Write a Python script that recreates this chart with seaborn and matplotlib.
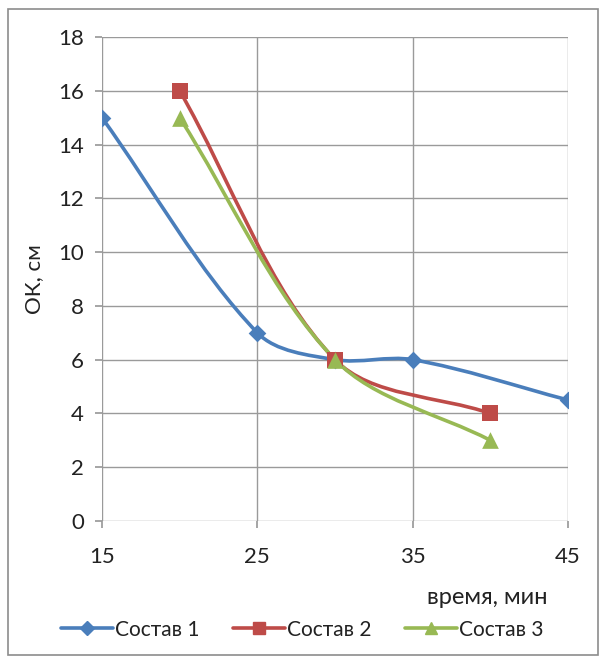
import numpy as np
import matplotlib
matplotlib.use("Agg")
import matplotlib.pyplot as plt
from matplotlib.path import Path
from matplotlib.patches import PathPatch, Rectangle
from matplotlib.lines import Line2D
import seaborn as sns

# data
x1 = [15, 25, 30, 35, 45]
y1 = [15, 7, 6, 6, 4.5]
x2 = [20, 30, 40]
y2 = [16, 6, 4]
x3 = [20, 30, 40]
y3 = [15, 6, 3]
names = ["Состав 1", "Состав 2", "Состав 3"]

colors = ["#4A7EBB", "#BE4B48", "#98B954"]
markers = ["D", "s", "^"]
msizes = [9, 12, 12]

sns.set_theme(style="white")
plt.rcParams["font.family"] = ["Lato", "DejaVu Sans"]


def smooth_path(ax, xs, ys):
    # excel-like smoothed line: bezier segments through the points,
    # tangents weighted by on-screen segment lengths
    p = np.column_stack([xs, ys]).astype(float)
    d = ax.transData.transform(p)
    seg = np.hypot(*np.diff(d, axis=0).T)
    n = len(p)
    tan = np.zeros_like(p)
    w_out = np.zeros(n)
    w_in = np.zeros(n)
    for i in range(n):
        a = p[max(i - 1, 0)]
        b = p[min(i + 1, n - 1)]
        tan[i] = b - a
        l_in = seg[i - 1] if i > 0 else 0.0
        l_out = seg[i] if i < n - 1 else 0.0
        tot = l_in + l_out
        w_out[i] = l_out / tot / 3.0
        w_in[i] = l_in / tot / 3.0
    verts = [tuple(p[0])]
    codes = [Path.MOVETO]
    for i in range(n - 1):
        c1 = p[i] + tan[i] * w_out[i]
        c2 = p[i + 1] - tan[i + 1] * w_in[i + 1]
        verts += [tuple(c1), tuple(c2), tuple(p[i + 1])]
        codes += [Path.CURVE4] * 3
    return Path(verts, codes)


fig = plt.figure(figsize=(6.05, 6.62), dpi=100)
ax = fig.add_axes([0.1686, 0.213, 0.7704, 0.731])
ax.set_xlim(15, 45)
ax.set_ylim(0, 18)

series = [(x1, y1), (x2, y2), (x3, y3)]
for (xs, ys), c, m, ms, nm in zip(series, colors, markers, msizes, names):
    ax.add_patch(PathPatch(smooth_path(ax, xs, ys), facecolor="none",
                           edgecolor=c, lw=2.6, zorder=3, capstyle="round"))
    sns.scatterplot(x=xs, y=ys, ax=ax, marker=m, s=ms ** 2, color=c,
                    edgecolor=c, linewidth=0, zorder=4, legend=False)

ax.set_xlim(15, 45)
ax.set_ylim(0, 18)
ax.set_xticks([15, 25, 35, 45])
ax.set_yticks(range(0, 19, 2))
ax.grid(True, color="#9a9a9a", lw=1)
for s in ax.spines.values():
    s.set_visible(False)
ax.tick_params(axis="both", length=5, color="#9a9a9a", labelsize=16,
               labelcolor="#222222", direction="out", left=True, bottom=True)
ax.tick_params(axis="x", pad=14)
ax.tick_params(axis="y", pad=8)
ax.set_axisbelow(True)

ax.set_ylabel("ОК, см", fontsize=16, color="#222222", labelpad=10)
fig.text(0.905, 0.098, "время, мин", ha="right", va="center",
         fontsize=17, color="#222222")

handles = [Line2D([], [], color=c, lw=2.6, marker=m, markersize=ms * 0.75)
           for c, m, ms in zip(colors, markers, msizes)]
fig.legend(handles, names, loc="center", bbox_to_anchor=(0.5, 0.049),
           ncol=3, frameon=False, fontsize=15, handlelength=2.5,
           handletextpad=0.1, columnspacing=1.6, labelcolor="#222222")

fig.patches.append(Rectangle((0.013, 0.01), 0.976, 0.977,
                             transform=fig.transFigure, fill=False,
                             edgecolor="#8c8c8c", lw=1.2))

fig.savefig("out.png", dpi=100)
